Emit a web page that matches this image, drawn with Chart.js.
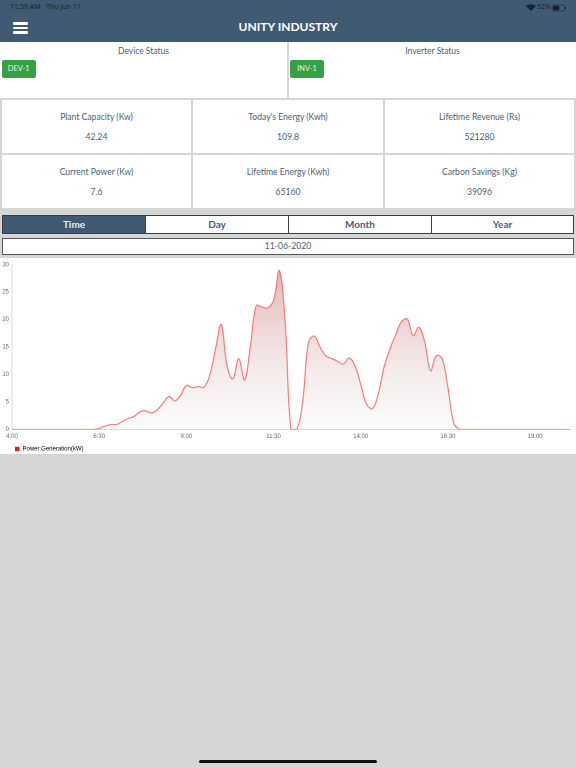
<!DOCTYPE html>
<html>
<head>
<meta charset="utf-8">
<title>Unity Industry</title>
<script src="https://cdn.jsdelivr.net/npm/chart.js@4"></script>
<style>
  html, body { margin: 0; padding: 0; }
  body { width: 576px; height: 768px; position: relative; overflow: hidden; background: #d6d6d6; font-family: Lato, sans-serif; color: #4a6078; }
  .abs { position: absolute; box-sizing: border-box; }
  #header { left: 0; top: 0; width: 576px; height: 42px; background: #3f5a72; }
  .status { top: 3px; font-size: 7px; line-height: 8px; color: #16222e; font-family: "Noto Sans", sans-serif; }
  #title { left: 0; top: 19px; width: 576px; text-align: center; color: #fff; font-size: 12px; line-height: 16px; font-weight: 700; }
  .bar { left: 12.5px; width: 15.5px; height: 2.8px; background: #fff; border-radius: 1px; }
  .panel { background: #fff; top: 42px; height: 56px; text-align: center; font-size: 8.5px; padding-top: 4px; line-height: 11px; }
  .badge { top: 60px; height: 18px; width: 34px; background: #35a045; color: #e6f4e6; font-size: 7.4px; line-height: 18px; text-align: center; border-radius: 2px; }
  .card { background: #fff; text-align: center; font-size: 8.6px; line-height: 12px; }
  .card div { position: absolute; left: 0; right: 0; }
  .tab { top: 215px; height: 19px; background: #fff; border: 1.3px solid #333f4a; text-align: center; font-size: 10px; line-height: 17px; font-weight: 700; }
  .tab.active { background: #3f5a72; color: #e8eef2; }
  #date { left: 2px; top: 238px; width: 572px; height: 17px; background: #fff; border: 1.3px solid #555; text-align: center; font-size: 8.6px; line-height: 15px; }
  #chartbox { left: 0; top: 258px; width: 576px; height: 196px; background: #fff; overflow: hidden; }
  #home { left: 199px; top: 760px; width: 178px; height: 3px; border-radius: 2px; background: #111; }
</style>
</head>
<body>
<div class="abs" id="header"></div>
<div class="abs status" style="left:10px">11:59 AM&nbsp;&nbsp;&nbsp;Thu Jun 11</div>
<div class="abs status" style="left:537px">52%</div>
<svg class="abs" style="left:526px;top:4px" width="10" height="7" viewBox="0 0 10 7"><path d="M0 2 Q5 -1.5 10 2 L5 7 Z" fill="#16222e"/></svg>
<svg class="abs" style="left:552px;top:3.5px" width="15" height="8" viewBox="0 0 15 8"><rect x="0.5" y="1" width="12" height="6" rx="1.5" fill="none" stroke="#16222e" stroke-width="0.5"/><rect x="1.2" y="1.7" width="6" height="4.6" rx="1" fill="#16222e"/><rect x="13" y="3" width="1" height="2" fill="#16222e"/></svg>
<div class="abs bar" style="top:22px"></div>
<div class="abs bar" style="top:26.5px"></div>
<div class="abs bar" style="top:31px"></div>
<div class="abs" id="title">UNITY INDUSTRY</div>

<div class="abs panel" style="left:0;width:287px">Device Status</div>
<div class="abs panel" style="left:289px;width:287px">Inverter Status</div>
<div class="abs badge" style="left:1.7px">DEV-1</div>
<div class="abs badge" style="left:290px">INV-1</div>

<div id="cards"></div>

<div class="abs tab active" style="left:2px;width:144px">Time</div>
<div class="abs tab" style="left:145px;width:144px">Day</div>
<div class="abs tab" style="left:288px;width:144px">Month</div>
<div class="abs tab" style="left:431px;width:143px">Year</div>
<div class="abs" id="date">11-06-2020</div>

<div class="abs" id="chartbox"><canvas id="chart" width="576" height="204"></canvas></div>
<div class="abs" id="home"></div>

<script>
'use strict';

const cardTitles = ['Plant Capacity (Kw)', "Today's Energy (Kwh)", 'Lifetime Revenue (Rs)', 'Current Power (Kw)', 'Lifetime Energy (Kwh)', 'Carbon Savings (Kg)'];
const cardValues = ['42.24', '109.8', '521280', '7.6', '65160', '39096'];

// one label every 10 minutes, only every 15th is shown
const timeLabels = [
  '4:00','4:10','4:20','4:30','4:40','4:50','5:00','5:10','5:20','5:30','5:40','5:50',
  '6:00','6:10','6:20','6:30','6:40','6:50','7:00','7:10','7:20','7:30','7:40','7:50',
  '8:00','8:10','8:20','8:30','8:40','8:50','9:00','9:10','9:20','9:30','9:40','9:50',
  '10:00','10:10','10:20','10:30','10:40','10:50','11:00','11:10','11:20','11:30','11:40','11:50',
  '12:00','12:10','12:20','12:30','12:40','12:50','13:00','13:10','13:20','13:30','13:40','13:50',
  '14:00','14:10','14:20','14:30','14:40','14:50','15:00','15:10','15:20','15:30','15:40','15:50',
  '16:00','16:10','16:20','16:30','16:40','16:50','17:00','17:10','17:20','17:30','17:40','17:50',
  '18:00','18:10','18:20','18:30','18:40','18:50','19:00','19:10','19:20','19:30','19:40','19:50',
  '20:00',
];
const powerValues = [
  0, 0, 0, 0, 0, 0, 0, 0, 0, 0, 0, 0,
  0, 0, 0, 0.2, 0.6, 0.9, 0.9, 1.5, 2.0, 2.4, 3.2, 3.4,
  3.0, 3.6, 4.8, 6.0, 5.2, 6.2, 8.0, 7.6, 7.8, 7.7, 9.8, 14.6,
  19.1, 11.6, 9.2, 12.9, 9.0, 15.0, 22.5, 22.3, 22.1, 23.5, 28.9, 19.5,
  0, 0, 5.0, 15.8, 17.0, 15.0, 13.4, 12.9, 12.4, 11.9, 13.0, 11.6,
  8.2, 4.6, 3.8, 6.4, 11.3, 14.6, 17.2, 19.6, 20.1, 17.1, 18.6, 15.9,
  10.7, 13.4, 12.9, 7.6, 1.2, 0, 0, 0, 0, 0, 0, 0,
  0, 0, 0, 0, 0, 0, 0, 0, 0, 0, 0, 0,
  0,
];
const yTicks = [0, 5, 10, 15, 20, 25, 30];

// --- Cards ----------------------------------------------------------------

const cardX = [[2, 189], [193, 190], [385, 189]];
const cardY = [100, 155];
cardTitles.forEach((t, i) => {
  const c = document.createElement('div');
  const [x, w] = cardX[i % 3];
  c.className = 'abs card';
  c.style.cssText = `left:${x}px;top:${cardY[Math.floor(i / 3)]}px;width:${w}px;height:53px`;
  c.innerHTML = `<div style="top:11px">${t}</div><div style="top:31px">${cardValues[i]}</div>`;
  document.getElementById('cards').appendChild(c);
});

// --- Chart ----------------------------------------------------------------

function fillGradient(context) {
  const { ctx, chartArea } = context.chart;
  if (!chartArea) return 'rgba(220,150,150,0.5)';
  const g = ctx.createLinearGradient(0, chartArea.top, 0, chartArea.bottom);
  g.addColorStop(0, 'rgba(205,110,110,0.55)');
  g.addColorStop(1, 'rgba(225,225,225,0.15)');
  return g;
}

// moves the legend right, labels.padding would also make it taller
const legendShift = {
  id: 'legendShift',
  afterLayout(chart) { chart.legend.left += 11.5; },
};

new Chart(document.getElementById('chart'), {
  type: 'line',
  plugins: [legendShift],
  data: {
    labels: timeLabels,
    datasets: [{
      label: 'Power Generation(kW)',
      data: powerValues,
      borderColor: 'rgba(250,110,110,0.9)',
      backgroundColor: fillGradient,
      borderWidth: 1.2,
      pointRadius: 0,
      tension: 0.4,
      fill: 'origin',
    }],
  },
  options: {
    responsive: false,
    animation: false,
    devicePixelRatio: 2,
    layout: { padding: { top: 6, right: 6, left: 0, bottom: 0 } },
    plugins: {
      tooltip: { enabled: false },
      legend: {
        position: 'bottom',
        align: 'start',
        labels: {
          boxWidth: 4.5, boxHeight: 4.5, padding: 3.5, color: '#666',
          font: { size: 6, family: 'Liberation Sans' },
          generateLabels: () => [{ text: 'Power Generation(kW)', fillStyle: '#f01818', strokeStyle: '#f01818', lineWidth: 0 }],
        },
      },
    },
    scales: {
      x: {
        grid: { display: false, drawTicks: false },
        border: { display: true, color: '#d8d8d8' },
        afterFit: (s) => { s.height = 13; },
        ticks: {
          autoSkip: false, maxRotation: 0, color: '#666', padding: 3,
          font: { size: 6, family: 'Liberation Sans' },
          callback: (v, i) => (i % 15 === 0 ? timeLabels[i] : null),
        },
      },
      y: {
        min: 0,
        max: 30,
        grid: { display: false, drawTicks: false },
        border: { display: true, color: '#d8d8d8' },
        afterFit: (s) => { s.width = 12; },
        afterBuildTicks: (s) => { s.ticks = yTicks.map((v) => ({ value: v })); },
        ticks: { color: '#666', padding: 3, font: { size: 6, family: 'Liberation Sans' } },
      },
    },
  },
});
</script>
</body>
</html>
